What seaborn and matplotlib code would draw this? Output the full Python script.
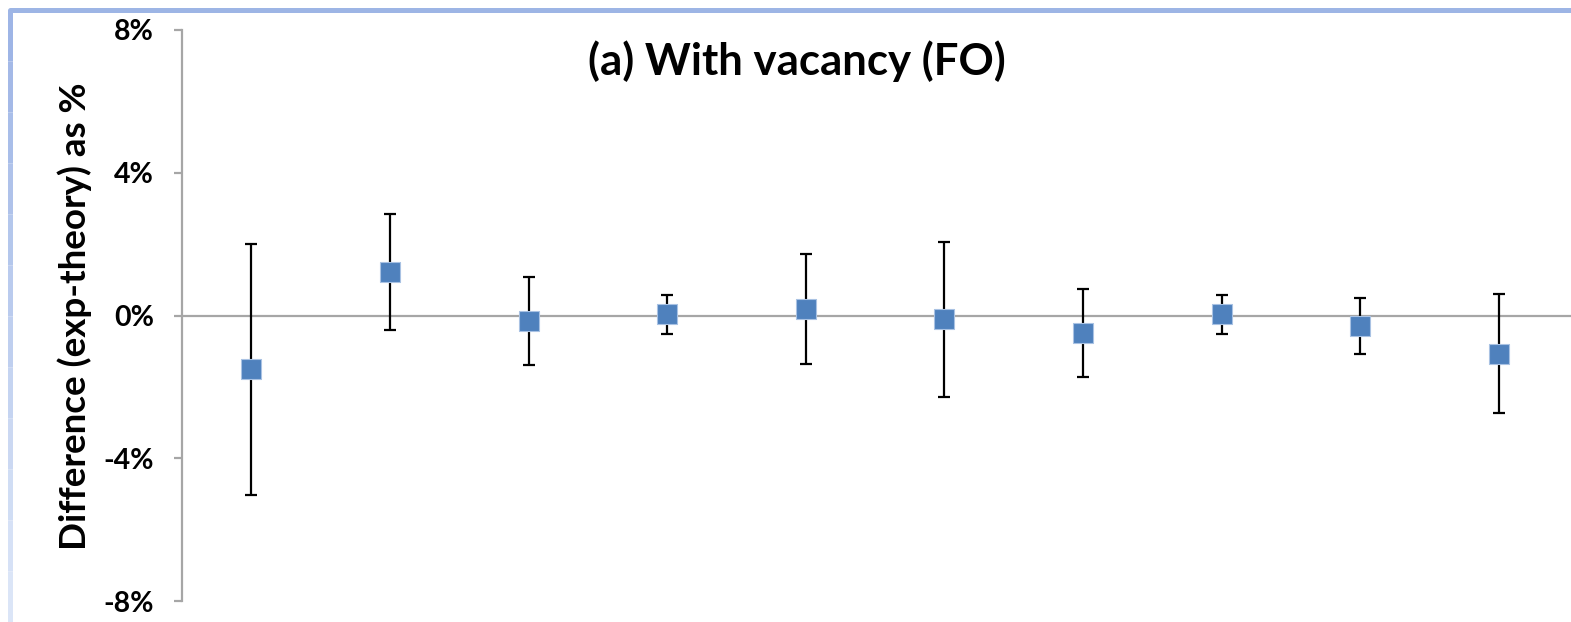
import seaborn as sns
import matplotlib.pyplot as plt
import pandas as pd
from matplotlib.lines import Line2D

# values (percent)
samples = [1, 2, 3, 4, 5, 6, 7, 8, 9, 10]
diff = [-1.51, 1.22, -0.15, 0.04, 0.19, -0.10, -0.49, 0.03, -0.29, -1.08]
err_top = [2.00, 2.85, 1.09, 0.57, 1.73, 2.06, 0.75, 0.57, 0.49, 0.59]
err_bottom = [-5.03, -0.42, -1.39, -0.52, -1.35, -2.27, -1.73, -0.52, -1.07, -2.74]
yticks = [-8, -4, 0, 4, 8]
ytick_labels = ['-8%', '-4%', '0%', '4%', '8%']

df = pd.DataFrame({'sample': samples, 'diff': diff,
                   'top': err_top, 'bottom': err_bottom})
df['lo'] = df['diff'] - df['bottom']
df['hi'] = df['top'] - df['diff']

sns.set_style('white')
plt.rcParams['font.family'] = ['Lato', 'DejaVu Sans']
plt.rcParams['font.weight'] = 'bold'
plt.rcParams['text.color'] = 'black'
plt.rcParams['ytick.labelcolor'] = 'black'

W, H = 1571, 622
fig = plt.figure(figsize=(W / 100, H / 100), dpi=100)
ax = fig.add_axes([182 / W, 1 - 601 / H, (1568 - 182) / W, (601 - 30) / H])

# zero line (the category axis in the original)
ax.axhline(0, xmax=1.01, color='#a6a6a6', lw=1.6, zorder=1, clip_on=False)

ax.errorbar(df['sample'], df['diff'], yerr=[df['lo'], df['hi']], fmt='none',
            ecolor='black', elinewidth=1.6, capsize=4.5, capthick=1.6, zorder=2)
sns.scatterplot(data=df, x='sample', y='diff', marker='s', s=190,
                color='#4f81bd', edgecolor='#a9c2e3', linewidth=0.8,
                zorder=3, ax=ax, legend=False)

ax.set_xlim(0.5, 10.5)
ax.set_ylim(-8, 8)
ax.set_yticks(yticks)
ax.set_yticklabels(ytick_labels, fontsize=20.5, fontweight='bold', color='black')
ax.set_xticks([])
ax.set_xlabel('')
ax.set_ylabel('')
for s in ['top', 'right', 'bottom']:
    ax.spines[s].set_visible(False)
ax.spines['left'].set_color('#a6a6a6')
ax.spines['left'].set_linewidth(1.6)
ax.tick_params(axis='y', left=True, length=6, width=1.6, color='#a6a6a6',
               pad=14, direction='out')

fig.text(797 / W, 1 - 61 / H, '(a) With vacancy (FO)', fontsize=31.5,
         fontweight='bold', ha='center', va='center', color='black')
fig.text(75 / W, 1 - 316 / H, 'Difference (exp-theory) as %', fontsize=26.5,
         fontweight='bold', rotation=90, ha='center', va='center', color='black')

# chart frame (top and left edges visible)
fig.add_artist(Line2D([10 / W, 1], [1 - 10 / H] * 2, transform=fig.transFigure,
                      color='#9db5e5', lw=3.6))
n = 12
for i in range(n):
    y0 = 10 + (H - 10) * i / n
    y1 = 10 + (H - 10) * (i + 1) / n
    t = i / (n - 1)
    c = (0.62 + 0.24 * t, 0.71 + 0.19 * t, 0.90 + 0.07 * t)
    fig.add_artist(Line2D([10 / W] * 2, [1 - y0 / H, 1 - y1 / H],
                          transform=fig.transFigure, color=c, lw=3.6,
                          solid_capstyle='butt'))

fig.savefig('out.png', dpi=100)
